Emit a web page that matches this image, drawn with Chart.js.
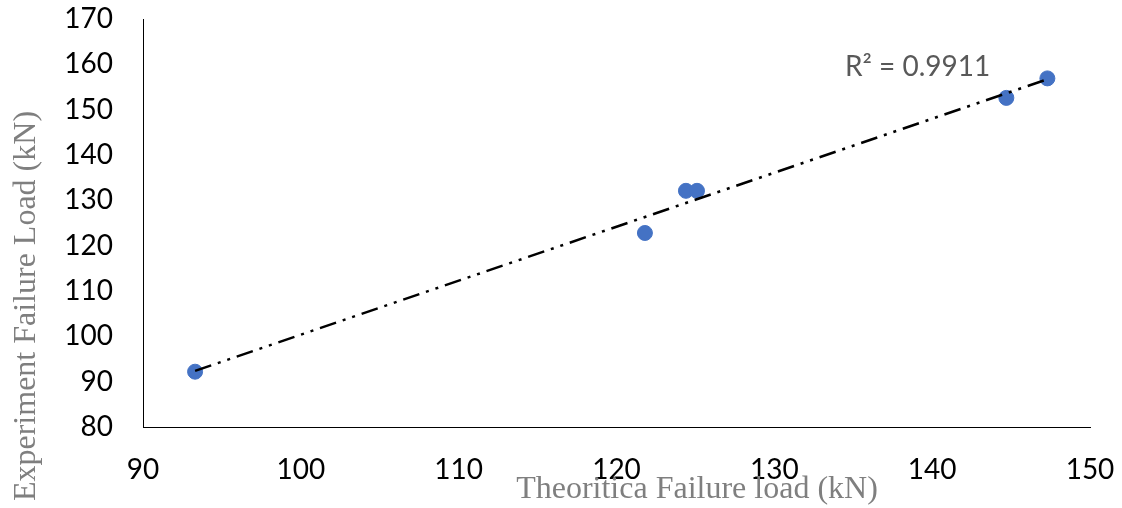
<!DOCTYPE html>
<html>
<head>
<meta charset="utf-8">
<script src="https://cdn.jsdelivr.net/npm/chart.js@4"></script>
<style>
  html, body { margin: 0; padding: 0; background: #fff; }
  #chart { display: block; }
</style>
</head>
<body>
<canvas id="chart" width="1122" height="508"></canvas>
<script>
// values
const theoretical = [93.3, 121.8, 124.4, 125.1, 144.7, 147.3];
const experiment = [92.2, 122.8, 132.1, 132.1, 152.6, 156.9];
const xTicks = [90, 100, 110, 120, 130, 140, 150];
const yTicks = [80, 90, 100, 110, 120, 130, 140, 150, 160, 170];
const rSquaredLabel = 'R² = 0.9911';

// least squares trendline through the points
function trendline(xs, ys) {
    const n = xs.length;
    const mx = xs.reduce((a, b) => a + b, 0) / n;
    const my = ys.reduce((a, b) => a + b, 0) / n;
    let sxy = 0, sxx = 0;
    for (let i = 0; i < n; i++) {
        sxy += (xs[i] - mx) * (ys[i] - my);
        sxx += (xs[i] - mx) * (xs[i] - mx);
    }
    const slope = sxy / sxx;
    const icpt = my - slope * mx;
    const x0 = Math.min(...xs), x1 = Math.max(...xs);
    return [{x: x0, y: icpt + slope * x0}, {x: x1, y: icpt + slope * x1}];
}

const points = theoretical.map((x, i) => ({x: x, y: experiment[i]}));

// axis titles and R² label, placed like the original
const labelsPlugin = {
    id: 'labels',
    afterDraw(chart) {
        const ctx = chart.ctx;
        ctx.save();
        ctx.fillStyle = '#595959';
        ctx.font = '28px Lato';
        ctx.textBaseline = 'middle';
        ctx.textAlign = 'left';
        ctx.fillText(rSquaredLabel, 845, 67);

        ctx.fillStyle = '#7f7f7f';
        ctx.font = '32px "Liberation Serif"';
        ctx.textAlign = 'center';
        ctx.fillText('Theoritica Failure load (kN)', 697, 490);

        ctx.translate(27, 306);
        ctx.rotate(-Math.PI / 2);
        ctx.fillText('Experiment Failure Load (kN)', 0, 0);
        ctx.restore();
    }
};

new Chart(document.getElementById('chart'), {
    type: 'scatter',
    data: {
        datasets: [{
            type: 'line',
            label: 'Trend',
            data: trendline(theoretical, experiment),
            borderColor: '#000',
            borderWidth: 2.5,
            borderDash: [17, 7, 3, 7, 3, 7],
            pointRadius: 0,
            fill: false
        }, {
            label: 'Experiment',
            data: points,
            backgroundColor: '#4472C4',
            borderColor: '#4472C4',
            pointRadius: 7.5,
            pointHoverRadius: 7.5
        }]
    },
    options: {
        responsive: false,
        animation: false,
        layout: { padding: { top: 19, right: 32, left: 0, bottom: 0 } },
        plugins: {
            legend: { display: false },
            tooltip: { enabled: false }
        },
        scales: {
            x: {
                type: 'linear',
                min: 90,
                max: 150,
                afterBuildTicks: s => { s.ticks = xTicks.map(v => ({value: v})); },
                afterFit: s => { s.height = 81; s.paddingLeft = 0; s.paddingRight = 0; },
                grid: { display: false, drawTicks: false },
                border: { color: '#000', width: 1 },
                ticks: { color: '#000', font: { family: 'Lato', size: 28 }, padding: 26 }
            },
            y: {
                min: 80,
                max: 170,
                afterBuildTicks: s => { s.ticks = yTicks.map(v => ({value: v})); },
                afterFit: s => { s.width = 143; s.paddingTop = 0; s.paddingBottom = 0; },
                grid: { display: false, drawTicks: false },
                border: { color: '#000', width: 1 },
                ticks: { color: '#000', font: { family: 'Lato', size: 28 }, padding: 30 }
            }
        }
    },
    plugins: [labelsPlugin]
});
</script>
</body>
</html>
